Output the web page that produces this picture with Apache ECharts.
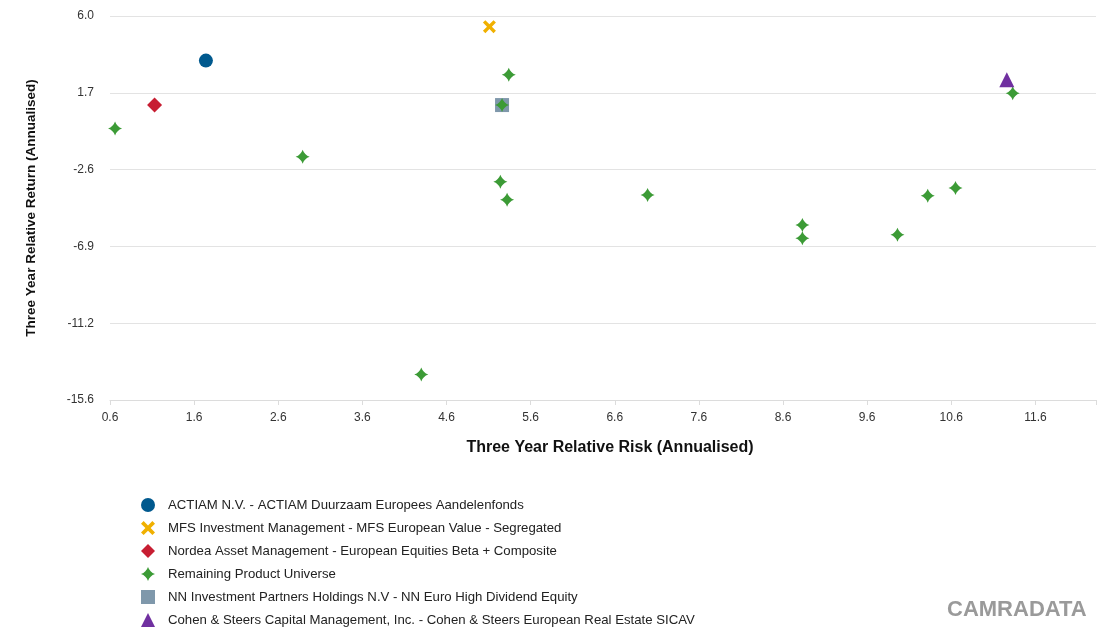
<!DOCTYPE html>
<html>
<head>
<meta charset="utf-8">
<script src="https://cdn.jsdelivr.net/npm/echarts@6/dist/echarts.min.js"></script>
<style>html,body{margin:0;padding:0;background:#fff;}#c{width:1099px;height:634px;}</style>
</head>
<body>
<div id="c"></div>
<script>
const xTickLabels = ['0.6','1.6','2.6','3.6','4.6','5.6','6.6','7.6','8.6','9.6','10.6','11.6'];
const yTickLabels = ['-15.6','-11.2','-6.9','-2.6','1.7','6.0'];

const seriesNames = [
  'ACTIAM N.V. - ACTIAM Duurzaam Europees Aandelenfonds',
  'MFS Investment Management - MFS European Value - Segregated',
  'Nordea Asset Management - European Equities Beta + Composite',
  'Remaining Product Universe',
  'NN Investment Partners Holdings N.V - NN Euro High Dividend Equity',
  'Cohen & Steers Capital Management, Inc. - Cohen & Steers European Real Estate SICAV'
];
const actiamData = [[1.74, 3.49]];
const mfsData = [[5.11, 5.40]];
const nordeaData = [[1.13, 0.99]];
const remainingData = [
  [0.66, -0.33], [2.89, -1.92], [5.34, 2.70], [5.26, 0.99], [5.24, -3.32],
  [5.32, -4.33], [6.99, -4.07], [8.83, -5.75], [8.83, -6.50], [9.96, -6.30],
  [10.32, -4.11], [10.65, -3.67], [11.33, 1.66], [4.30, -14.16]
];
const nnData = [[5.26, 0.99]];
const cohenData = [[11.26, 2.41]];

const starPath = 'path://M0,-10 Q2.6,-2.6 10,0 Q2.6,2.6 0,10 Q-2.6,2.6 -10,0 Q-2.6,-2.6 0,-10 Z';
const xPath = 'path://M-8,-5 L-5,-8 L0,-3 L5,-8 L8,-5 L3,0 L8,5 L5,8 L0,3 L-5,8 L-8,5 L-3,0 Z';

const FONT = '"Liberation Sans", Arial, sans-serif';
const chart = echarts.init(document.getElementById('c'), null, {renderer: 'canvas'});

function xLabel(v) {
  const i = Math.round(v - 0.6);
  if (i >= 0 && i < xTickLabels.length && Math.abs(v - (0.6 + i)) < 1e-6) return xTickLabels[i];
  return '';
}
function yLabel(v) {
  const i = Math.round((v + 15.6) / 4.32);
  if (i >= 0 && i < yTickLabels.length && Math.abs(v - (-15.6 + i * 4.32)) < 1e-6) return yTickLabels[i];
  return '';
}

chart.setOption({
  animation: false,
  backgroundColor: '#fff',
  grid: {left: 110, right: 2, top: 16, bottom: 234, containLabel: false},
  xAxis: {
    type: 'value', min: 0.6, max: 12.32, interval: 1,
    name: 'Three Year Relative Risk (Annualised)', nameLocation: 'middle', nameGap: 40,
    nameTextStyle: {fontFamily: FONT, fontSize: 16, fontWeight: 'bold', color: '#111', padding: [0, 0, 0, 14]},
    axisLine: {show: true, onZero: false, lineStyle: {color: '#dcdcdc'}},
    axisTick: {show: true, length: 5, lineStyle: {color: '#dcdcdc'}},
    axisLabel: {formatter: xLabel, fontFamily: FONT, fontSize: 12, color: '#333', margin: 12},
    splitLine: {show: false}
  },
  yAxis: {
    type: 'value', min: -15.6, max: 6.0, interval: 4.32,
    name: 'Three Year Relative Return (Annualised)', nameLocation: 'middle', nameGap: 72, nameRotate: 90,
    nameTextStyle: {fontFamily: FONT, fontSize: 13.5, fontWeight: 'bold', color: '#111'},
    axisLine: {show: false}, axisTick: {show: false},
    axisLabel: {formatter: yLabel, fontFamily: FONT, fontSize: 12, color: '#333', margin: 16},
    splitLine: {show: true, lineStyle: {color: '#e3e3e3'}}
  },
  legend: {
    orient: 'vertical', left: 141, top: 497, padding: 0, itemWidth: 14, itemHeight: 14, itemGap: 7,
    data: seriesNames,
    textStyle: {fontFamily: FONT, fontSize: 13.2, lineHeight: 16, color: '#222', padding: [0, 0, 0, 8]}
  },
  graphic: [{
    type: 'text', left: 947, top: 599,
    style: {text: 'CAMRADATA', fontFamily: FONT, fontSize: 22, fontWeight: 'bold', fill: '#9a9a9a'}
  }],
  series: [
    {name: seriesNames[0], type: 'scatter', data: actiamData, symbol: 'circle', symbolSize: 14, z: 2, itemStyle: {color: '#00598e', opacity: 1}},
    {name: seriesNames[1], type: 'scatter', data: mfsData, symbol: xPath, symbolSize: 13, z: 2, itemStyle: {color: '#f0b000', opacity: 1}},
    {name: seriesNames[2], type: 'scatter', data: nordeaData, symbol: 'diamond', symbolSize: 15, z: 2, itemStyle: {color: '#c71e32', opacity: 1}},
    {name: seriesNames[3], type: 'scatter', data: remainingData, symbol: starPath, symbolSize: 14, z: 4, itemStyle: {color: '#3c9b36', opacity: 1}},
    {name: seriesNames[4], type: 'scatter', data: nnData, symbol: 'rect', symbolSize: 14, z: 3, itemStyle: {color: '#7f98ab', opacity: 1}},
    {name: seriesNames[5], type: 'scatter', data: cohenData, symbol: 'triangle', symbolSize: 15, z: 5, itemStyle: {color: '#7030a0', opacity: 1}}
  ]
});
</script>
</body>
</html>
